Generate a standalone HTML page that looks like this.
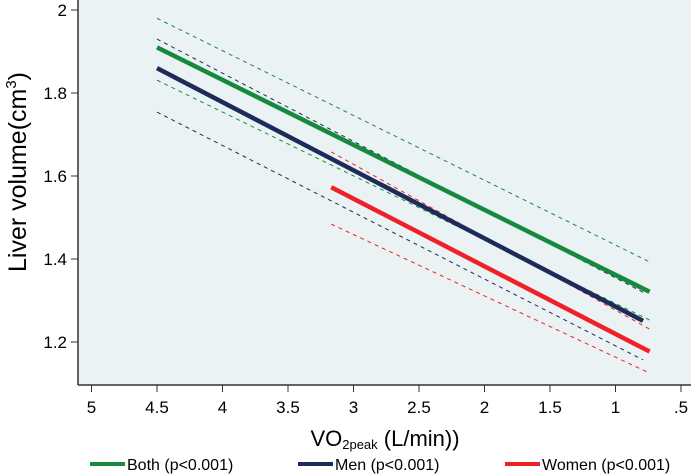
<!DOCTYPE html>
<html><head><meta charset="utf-8"><style>
html,body{margin:0;padding:0;background:#fff;}
svg{display:block;font-family:"Liberation Sans",Arial,sans-serif;}
</style></head><body>
<svg id="chart" width="693" height="476">
<rect x="78" y="0" width="613" height="385" fill="#eaf2f3"/>
<g id="marks"></g>
<line x1="78" y1="0" x2="78" y2="385" stroke="#333" stroke-width="1.5"/>
<line x1="78" y1="385" x2="691" y2="385" stroke="#333" stroke-width="1.5"/>
<g id="yticks"></g><g id="xticks"></g>
<text x="26" y="172" font-size="25" text-anchor="middle" transform="rotate(-90 26 172)">Liver volume(cm<tspan dy="-10" font-size="15">3</tspan><tspan dy="10">)</tspan></text>
<text x="385" y="446" font-size="22" text-anchor="middle">VO<tspan font-size="13" dy="3">2peak</tspan><tspan dy="-3"> (L/min))</tspan></text>
<g>
<line x1="90" y1="464" x2="125" y2="464" stroke="#168a3c" stroke-width="4"/>
<text x="127" y="470" font-size="16">Both (p&lt;0.001)</text>
<line x1="298" y1="464" x2="333" y2="464" stroke="#1c2b5a" stroke-width="4"/>
<text x="335" y="470" font-size="16">Men (p&lt;0.001)</text>
<line x1="505" y1="464" x2="540" y2="464" stroke="#f02028" stroke-width="4"/>
<text x="542" y="470" font-size="16">Women (p&lt;0.001)</text>
</g>
</svg>
<script>
const seriesNames=["both","men","women"];
const xStart=[4.5,4.5,3.17];
const xEnd=[0.74,0.79,0.74];
const fitStart=[1.91,1.86,1.573];
const fitEnd=[1.321,1.251,1.177];
const upStart=[1.98,1.93,1.658];
const upEnd=[1.393,1.32,1.231];
const loStart=[1.831,1.754,1.484];
const loEnd=[1.253,1.157,1.125];
const colors=["#168a3c","#1c2b5a","#f02028"];
const yTicks=[2,1.8,1.6,1.4,1.2];
const yTickLabels=["2","1.8","1.6","1.4","1.2"];
const xTicks=[5,4.5,4,3.5,3,2.5,2,1.5,1,0.5];
const xTickLabels=["5","4.5","4","3.5","3","2.5","2","1.5","1",".5"];
const sx=v=>681-(v-0.5)*131;
const sy=v=>10+(2-v)*415;
const NS="http://www.w3.org/2000/svg";
const marks=document.getElementById("marks");
function ln(x1,y1,x2,y2,c,w,dash){const l=document.createElementNS(NS,"line");
l.setAttribute("x1",sx(x1));l.setAttribute("y1",sy(y1));l.setAttribute("x2",sx(x2));l.setAttribute("y2",sy(y2));
l.setAttribute("stroke",c);l.setAttribute("stroke-width",w);if(dash)l.setAttribute("stroke-dasharray",dash);marks.appendChild(l);return l;}
for(let i=0;i<3;i++){
 let a=ln(xStart[i],upStart[i],xEnd[i],upEnd[i],colors[i],1,"4,4");
 
 
 let b=ln(xStart[i],loStart[i],xEnd[i],loEnd[i],colors[i],1,"4,4");
 
 
}
for(let i=0;i<3;i++){
 let f=ln(xStart[i],fitStart[i],xEnd[i],fitEnd[i],colors[i],4.5,null);
 
 
}
const yt=document.getElementById("yticks");
yTicks.forEach((v,i)=>{const y=sy(v);
 const l=document.createElementNS(NS,"line");l.setAttribute("x1",71);l.setAttribute("x2",78);l.setAttribute("y1",y);l.setAttribute("y2",y);l.setAttribute("stroke","#333");
 
 
 yt.appendChild(l);
 const t=document.createElementNS(NS,"text");t.setAttribute("x",67);t.setAttribute("y",y+6);t.setAttribute("font-size","17");t.setAttribute("text-anchor","end");t.textContent=yTickLabels[i];
 
 
 yt.appendChild(t);});
const xt=document.getElementById("xticks");
xTicks.forEach((v,i)=>{const x=sx(v);
 const l=document.createElementNS(NS,"line");l.setAttribute("x1",x);l.setAttribute("x2",x);l.setAttribute("y1",385);l.setAttribute("y2",392);l.setAttribute("stroke","#333");
 
 
 xt.appendChild(l);
 const t=document.createElementNS(NS,"text");t.setAttribute("x",x);t.setAttribute("y",413);t.setAttribute("font-size","17");t.setAttribute("text-anchor","middle");t.textContent=xTickLabels[i];
 
 
 xt.appendChild(t);});
</script>
</body></html>
